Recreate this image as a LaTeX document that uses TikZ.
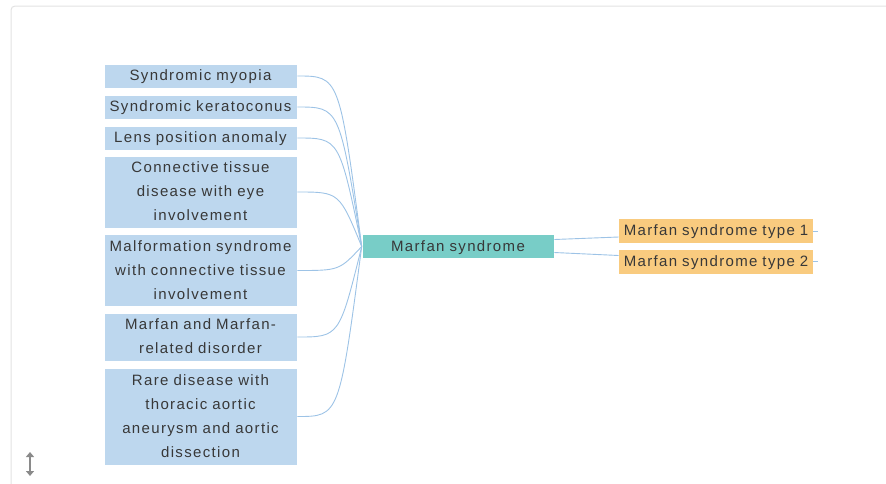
\documentclass[tikz,border=0pt]{standalone}
\usepackage{fontspec}
\setmainfont{Liberation Sans}[LetterSpace=9]
\usetikzlibrary{arrows.meta}
\definecolor{leftblue}{HTML}{BDD7EE}
\definecolor{midteal}{HTML}{78CDC7}
\definecolor{rightorange}{HTML}{F9CB7F}
\definecolor{linkblue}{HTML}{9DC3E6}
\definecolor{textgray}{HTML}{383838}
\definecolor{framegray}{HTML}{E2E2E2}
\definecolor{icongray}{HTML}{8A8A8A}
\tikzset{
	box/.style={inner sep=0pt, text=textgray, align=center,
		font=\fontsize{15}{24}\selectfont, draw=white, line width=0.6pt,
		execute at begin node=\strut, execute at end node=\strut},
	leftbox/.style={box, fill=leftblue, minimum width=193, text width=193},
	midbox/.style={box, fill=midteal, minimum width=192, minimum height=23, text width=192},
	rightbox/.style={box, fill=rightorange, draw=none, minimum width=194, minimum height=24, text width=194},
	link/.style={draw=linkblue, line width=0.9pt}
}
\begin{document}
\begin{tikzpicture}[x=1pt,y=-1pt]
		\useasboundingbox (0,0) rectangle (886,483);
		% frame
		\draw[framegray, line width=1pt, rounded corners=4pt] (11,490) -- (11,6) -- (895,6);
		\draw[icongray, line width=2.6pt, {Triangle[width=8pt,length=5pt]}-{Triangle[width=8pt,length=5pt]}] (30,452) -- (30,476);
		% left
		\node[leftbox, minimum height=24] (l1) at (200.5,76) {Syndromic myopia};
		\node[leftbox, minimum height=24] (l2) at (200.5,107) {Syndromic keratoconus};
		\node[leftbox, minimum height=24] (l3) at (200.5,138) {Lens position anomaly};
		\node[leftbox, minimum height=72] (l4) at (200.5,192) {Connective tissue\\disease with eye\\involvement};
		\node[leftbox, minimum height=71] (l5) at (200.5,270.5) {Malformation syndrome\\with connective tissue\\involvement};
		\node[leftbox, minimum height=48] (l6) at (200.5,337) {Marfan and Marfan-\\related disorder};
		\node[leftbox, minimum height=97] (l7) at (200.5,416.5) {Rare disease with\\thoracic aortic\\aneurysm and aortic\\dissection};
		% middle
		\node[midbox] (m) at (458,246.5) {Marfan syndrome};
		% right
		\node[rightbox] (r1) at (716,231) {Marfan syndrome type 1};
		\node[rightbox] (r2) at (716,261.5) {Marfan syndrome type 2};
		\foreach \i in {1,...,7}{
			\draw[link] (l\i.east) .. controls ++(42,0) .. (m.west);
		}
		\draw[link] ([yshift=7]m.east) -- ([yshift=-6]r1.west);
		\draw[link] ([yshift=-6]m.east) -- ([yshift=6]r2.west);
		\foreach \i in {1,2}{
			\draw[link] (r\i.east) -- ++(5,0);
		}
	\end{tikzpicture}
\end{document}
